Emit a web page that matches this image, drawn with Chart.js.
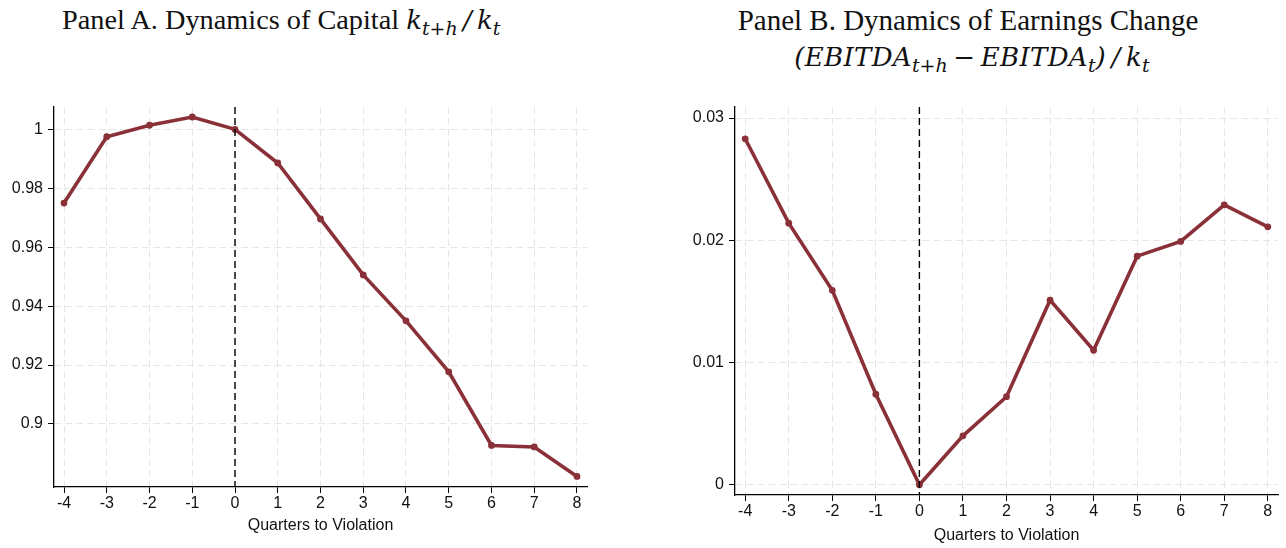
<!DOCTYPE html>
<html>
<head>
    <meta charset="utf-8" />
    <title>Dynamics around covenant violation</title>
    <script src="https://cdn.jsdelivr.net/npm/chart.js"></script>
    <style>
        html, body { margin: 0; padding: 0; background: #fff; }
        body { width: 1286px; height: 548px; position: relative; overflow: hidden; }
        .title { position: absolute; font-family: "Liberation Serif", "DejaVu Serif", serif; font-size: 28.3px; color: #111; white-space: nowrap; line-height: 1; }
        .title i { font-family: "DejaVu Serif", serif; font-style: italic; font-size: 26px; }
        .title sub { font-size: 19px; vertical-align: -6px; line-height: 0; letter-spacing: 0; }
        .panel { position: absolute; top: 90px; height: 458px; }
    </style>
</head>
<body>
    <div class="title" style="left:62px; top:6px;">Panel A. Dynamics of Capital <i>k<sub>t+h</sub>&thinsp;/&thinsp;k<sub>t</sub></i></div>
    <div class="title" style="left:700px; width:536px; top:6px; text-align:center; font-size:29px;">Panel B. Dynamics of Earnings Change</div>
    <div class="title" style="left:704px; width:536px; top:43px; text-align:center;"><i style="letter-spacing:0.3px;">(EBITDA<sub>t+h</sub>&thinsp;&minus;&thinsp;EBITDA<sub>t</sub>)&thinsp;/&thinsp;k<sub>t</sub></i></div>

    <div class="panel" style="left:0; width:640px;"><canvas id="chartA"></canvas></div>
    <div class="panel" style="left:640px; width:646px;"><canvas id="chartB"></canvas></div>

    <script>
        // quarters relative to the violation
        const quarters = [-4, -3, -2, -1, 0, 1, 2, 3, 4, 5, 6, 7, 8];
        // Panel A: k_{t+h}/k_t
        const capitalRatio = [0.9750, 0.9975, 1.0014, 1.0042, 1.0000, 0.9886, 0.9696, 0.9506, 0.9350, 0.9177, 0.8927, 0.8922, 0.8822];
        // Panel B: (EBITDA_{t+h} - EBITDA_t)/k_t
        const earningsChange = [0.0283, 0.0214, 0.0159, 0.0074, 0.0000, 0.0040, 0.0072, 0.0151, 0.0110, 0.0187, 0.0199, 0.0229, 0.0211];
        const ticksA = [0.9, 0.92, 0.94, 0.96, 0.98, 1];
        const ticksB = [0, 0.01, 0.02, 0.03];
        const xLabel = 'Quarters to Violation';

        const lineColor = '#8a3038';

        // dashed vertical line at the violation quarter
        const violationLine = {
            id: 'violationLine',
            afterDatasetsDraw(chart) {
                const x = chart.scales.x.getPixelForValue(0);
                const area = chart.chartArea;
                const ctx = chart.ctx;
                ctx.save();
                ctx.strokeStyle = '#000';
                ctx.lineWidth = 1.4;
                ctx.setLineDash([7, 4]);
                ctx.beginPath();
                ctx.moveTo(x, area.top);
                ctx.lineTo(x, area.bottom);
                ctx.stroke();
                ctx.restore();
            }
        };

        function makeChart(id, values, yTicks, yMin, yMax, opts) {
            const points = quarters.map((q, i) => ({ x: q, y: values[i] }));
            return new Chart(document.getElementById(id), {
                type: 'line',
                data: {
                    datasets: [{
                        data: points,
                        borderColor: lineColor,
                        backgroundColor: lineColor,
                        borderWidth: 3.6,
                        pointRadius: 3.4,
                        pointBorderWidth: 0,
                        tension: 0
                    }]
                },
                options: {
                    responsive: true,
                    maintainAspectRatio: false,
                    animation: false,
                    layout: { padding: { top: 17, right: opts.padRight, left: 0, bottom: 0 } },
                    plugins: { legend: { display: false }, tooltip: { enabled: false } },
                    scales: {
                        x: {
                            type: 'linear',
                            min: -4.234,
                            max: 8.234,
                            afterBuildTicks: s => { s.ticks = quarters.map(v => ({ value: v })); },
                            afterFit: s => { s.height = opts.xHeight; },
                            ticks: {
                                color: '#111',
                                font: { family: 'Liberation Sans', size: 16 },
                                padding: 1,
                                maxRotation: 0,
                                callback: v => String(v)
                            },
                            grid: {
                                color: '#e6e6e6',
                                lineWidth: 1,
                                tickColor: '#000',
                                tickLength: 6,
                                tickBorderDash: []
                            },
                            border: { display: true, color: '#000', width: 1.3, dash: [7, 4] },
                            title: {
                                display: true,
                                text: xLabel,
                                color: '#111',
                                font: { family: 'Liberation Sans', size: 16 },
                                padding: { top: 0, bottom: opts.titlePad }
                            }
                        },
                        y: {
                            type: 'linear',
                            min: yMin,
                            max: yMax,
                            afterBuildTicks: s => { s.ticks = yTicks.map(v => ({ value: v })); },
                            afterFit: s => { s.width = opts.yWidth; },
                            ticks: {
                                color: '#111',
                                font: { family: 'Liberation Sans', size: 16 },
                                padding: 5,
                                callback: v => String(parseFloat(v.toFixed(4)))
                            },
                            grid: {
                                color: '#e6e6e6',
                                lineWidth: 1,
                                tickColor: '#000',
                                tickLength: 6,
                                tickBorderDash: []
                            },
                            border: { display: true, color: '#000', width: 1.3, dash: [7, 4] }
                        }
                    }
                },
                plugins: [violationLine]
            });
        }

        makeChart('chartA', capitalRatio, ticksA, 0.8786, 1.0076,
            { padRight: 53, xHeight: 61, yWidth: 54, titlePad: 13 });
        makeChart('chartB', earningsChange, ticksB, -0.00084, 0.0309,
            { padRight: 8, xHeight: 53, yWidth: 95, titlePad: 3 });
    </script>
</body>
</html>
